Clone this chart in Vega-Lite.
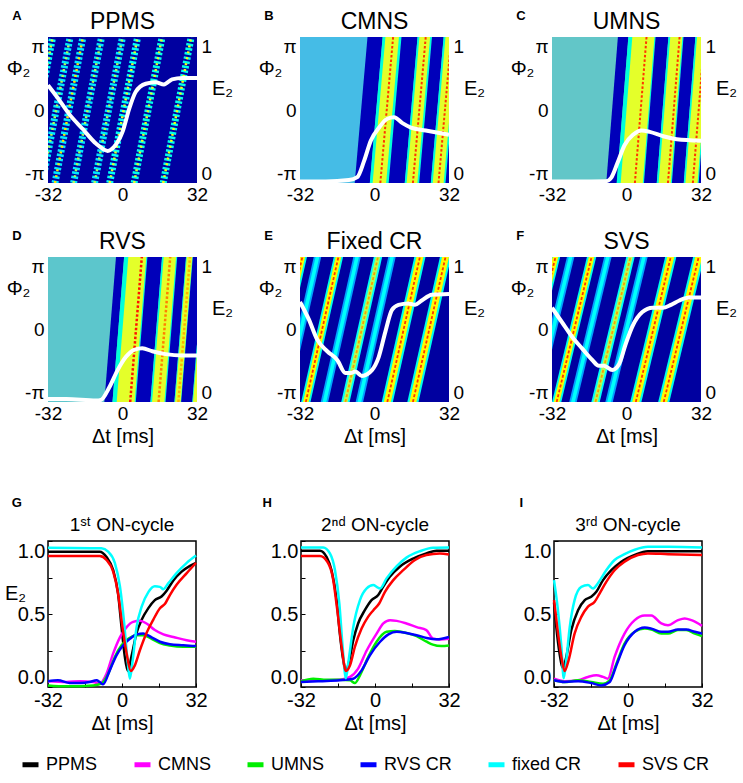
{
"$schema":"https://vega.github.io/schema/vega-lite/v6.json",
"padding":{"left":3,"top":10,"right":0,"bottom":0},
"background":"white",
"config":{"font":"Liberation Sans","view":{"stroke":null},"axis":{"grid":false,"domain":false,"ticks":false,"labelFontSize":19,"titleFontSize":20,"titleFontWeight":"normal","labelColor":"#000","titleColor":"#000"},"title":{"fontWeight":"normal","color":"#000"},"legend":{"labelColor":"#000"}},
"datasets":{
"heat":[
{"p":"A","g":1,"f":-3.1416,"m":-42,"v":0.38,"k":0.6},{"p":"A","g":1,"f":3.1416,"m":-30,"v":0.38,"k":0.6},
{"p":"A","g":2,"f":-3.1416,"m":-34.5,"v":0.35,"k":0.55},{"p":"A","g":2,"f":3.1416,"m":-22.5,"v":0.35,"k":0.55},
{"p":"A","g":3,"f":-3.1416,"m":-29,"v":0.35,"k":0.65},{"p":"A","g":3,"f":3.1416,"m":-17,"v":0.35,"k":0.65},
{"p":"A","g":4,"f":-3.1416,"m":-21,"v":0.35,"k":0.55},{"p":"A","g":4,"f":3.1416,"m":-9,"v":0.35,"k":0.55},
{"p":"A","g":5,"f":-3.1416,"m":-12,"v":0.35,"k":0.55},{"p":"A","g":5,"f":3.1416,"m":0,"v":0.35,"k":0.55},
{"p":"A","g":6,"f":-3.1416,"m":-5.5,"v":0.38,"k":0.6},{"p":"A","g":6,"f":3.1416,"m":6.5,"v":0.38,"k":0.6},
{"p":"A","g":7,"f":-3.1416,"m":5,"v":0.4,"k":0.6},{"p":"A","g":7,"f":3.1416,"m":17,"v":0.4,"k":0.6},
{"p":"A","g":8,"f":-3.1416,"m":17.5,"v":0.4,"k":0.62},{"p":"A","g":8,"f":3.1416,"m":29.5,"v":0.4,"k":0.62},

{"p":"B","g":1,"f":-3.1416,"a":-8.5,"b":-2,"v":0.05},{"p":"B","g":1,"f":3.1416,"a":-3,"b":3.5,"v":0.05},
{"p":"B","g":2,"f":-3.1416,"a":-2,"b":6.1,"v":0.42,"c":-0.8,"d":5,"w":0.6,"m":2.5,"k":0.85},{"p":"B","g":2,"f":3.1416,"a":3.5,"b":11.6,"v":0.42,"c":4.7,"d":10.5,"w":0.6,"m":8,"k":0.85},
{"p":"B","g":3,"f":-3.1416,"a":6.1,"b":13,"v":0.05},{"p":"B","g":3,"f":3.1416,"a":11.6,"b":18.5,"v":0.05},
{"p":"B","g":4,"f":-3.1416,"a":13,"b":19.2,"v":0.42,"c":13.8,"d":18.4,"w":0.6,"m":16.5,"k":0.85},{"p":"B","g":4,"f":3.1416,"a":18.5,"b":24.7,"v":0.42,"c":19.3,"d":23.9,"w":0.6,"m":22,"k":0.85},
{"p":"B","g":5,"f":-3.1416,"a":19.2,"b":24.2,"v":0.05},{"p":"B","g":5,"f":3.1416,"a":24.7,"b":29.7,"v":0.05},
{"p":"B","g":6,"f":-3.1416,"a":24.2,"b":30.5,"v":0.42,"c":25,"d":29.7,"w":0.6,"m":27.5,"k":0.85},{"p":"B","g":6,"f":3.1416,"a":29.7,"b":36,"v":0.42,"c":30.5,"d":35.2,"w":0.6,"m":33,"k":0.85},
{"p":"B","g":7,"f":-3.1416,"a":30.5,"b":35.5,"v":0.05},{"p":"B","g":7,"f":3.1416,"a":36,"b":41,"v":0.05},

{"p":"C","g":1,"f":-3.1416,"a":-8.7,"b":-4.2,"v":0.05},{"p":"C","g":1,"f":3.1416,"a":-3.7,"b":0.8,"v":0.05},
{"p":"C","g":2,"f":-3.1416,"a":-4.2,"b":7.5,"v":0.42,"c":-2.5,"d":7,"w":0.6,"m":3.6,"k":0.85},{"p":"C","g":2,"f":3.1416,"a":0.8,"b":12.5,"v":0.42,"c":2.5,"d":12,"w":0.6,"m":8.6,"k":0.85},
{"p":"C","g":3,"f":-3.1416,"a":7.5,"b":13,"v":0.05},{"p":"C","g":3,"f":3.1416,"a":12.5,"b":18,"v":0.05},
{"p":"C","g":4,"f":-3.1416,"a":13,"b":19.5,"v":0.42,"c":13.8,"d":19,"w":0.6,"m":17.8,"k":0.85},{"p":"C","g":4,"f":3.1416,"a":18,"b":24.5,"v":0.42,"c":18.8,"d":24,"w":0.6,"m":22.8,"k":0.85},
{"p":"C","g":5,"f":-3.1416,"a":19.5,"b":24.6,"v":0.05},{"p":"C","g":5,"f":3.1416,"a":24.5,"b":29.6,"v":0.05},
{"p":"C","g":6,"f":-3.1416,"a":24.6,"b":31,"v":0.42,"c":25.3,"d":30.5,"w":0.6,"m":28.5,"k":0.85},{"p":"C","g":6,"f":3.1416,"a":29.6,"b":36,"v":0.42,"c":30.3,"d":35.5,"w":0.6,"m":33.5,"k":0.85},
{"p":"C","g":7,"f":-3.1416,"a":31,"b":36,"v":0.05},{"p":"C","g":7,"f":3.1416,"a":36,"b":41,"v":0.05},

{"p":"D","g":1,"f":-3.1416,"a":-7.8,"b":-4.3,"v":0.05},{"p":"D","g":1,"f":3.1416,"a":-2.8,"b":0.7,"v":0.05},
{"p":"D","g":2,"f":-3.1416,"a":-4.3,"b":5.7,"v":0.42,"c":-2.5,"d":5.2,"w":0.6,"m":3.3,"k":0.87},{"p":"D","g":2,"f":3.1416,"a":0.7,"b":10.7,"v":0.42,"c":2.5,"d":10.2,"w":0.6,"m":8.3,"k":0.87},
{"p":"D","g":3,"f":-3.1416,"a":5.7,"b":12,"v":0.05},{"p":"D","g":3,"f":3.1416,"a":10.7,"b":17,"v":0.05},
{"p":"D","g":4,"f":-3.1416,"a":12,"b":18.5,"v":0.42,"c":12.7,"d":18,"w":0.6,"m":15.5,"k":0.75},{"p":"D","g":4,"f":3.1416,"a":17,"b":23.5,"v":0.42,"c":17.7,"d":23,"w":0.6,"m":20.5,"k":0.75},
{"p":"D","g":5,"f":-3.1416,"a":18.5,"b":22.3,"v":0.05},{"p":"D","g":5,"f":3.1416,"a":23.5,"b":27.3,"v":0.05},
{"p":"D","g":6,"f":-3.1416,"a":22.3,"b":25.2,"v":0.42,"c":22.6,"d":25,"w":0.6,"m":24,"k":0.7},{"p":"D","g":6,"f":3.1416,"a":27.3,"b":30.2,"v":0.42,"c":27.6,"d":30,"w":0.6,"m":29,"k":0.7},
{"p":"D","g":7,"f":-3.1416,"a":25.2,"b":30,"v":0.05},{"p":"D","g":7,"f":3.1416,"a":30.2,"b":35,"v":0.05},
{"p":"D","g":8,"f":-3.1416,"a":30,"b":35,"v":0.42,"c":30.3,"d":34.7,"w":0.6},{"p":"D","g":8,"f":3.1416,"a":35,"b":40,"v":0.42,"c":35.3,"d":39.7,"w":0.6},

{"p":"E","g":1,"f":-3.1416,"a":-47,"b":-43,"v":0.4,"c":-46.2,"d":-43.8,"w":0.63,"m":-45,"k":0.85},{"p":"E","g":1,"f":3.1416,"a":-33,"b":-29,"v":0.4,"c":-32.2,"d":-29.8,"w":0.63,"m":-31,"k":0.85},
{"p":"E","g":2,"f":-3.1416,"a":-40.1,"b":-36.9,"v":0.28,"c":-39.3,"d":-37.7,"w":0.38},{"p":"E","g":2,"f":3.1416,"a":-26.1,"b":-22.9,"v":0.28,"c":-25.3,"d":-23.7,"w":0.38},
{"p":"E","g":3,"f":-3.1416,"a":-31.5,"b":-27.5,"v":0.4,"c":-30.7,"d":-28.3,"w":0.63,"m":-29.5,"k":0.85},{"p":"E","g":3,"f":3.1416,"a":-17.5,"b":-13.5,"v":0.4,"c":-16.7,"d":-14.3,"w":0.63,"m":-15.5,"k":0.85},
{"p":"E","g":4,"f":-3.1416,"a":-23.1,"b":-19.9,"v":0.28,"c":-22.3,"d":-20.7,"w":0.38},{"p":"E","g":4,"f":3.1416,"a":-9.1,"b":-5.9,"v":0.28,"c":-8.3,"d":-6.7,"w":0.38},
{"p":"E","g":5,"f":-3.1416,"a":-14.3,"b":-10.7,"v":0.38,"c":-13.5,"d":-11.5,"w":0.55,"m":-12.5,"k":0.72},{"p":"E","g":5,"f":3.1416,"a":-0.3,"b":3.3,"v":0.38,"c":0.5,"d":2.5,"w":0.55,"m":1.5,"k":0.72},
{"p":"E","g":6,"f":-3.1416,"a":-8.1,"b":-4.9,"v":0.28,"c":-7.3,"d":-5.7,"w":0.38},{"p":"E","g":6,"f":3.1416,"a":5.9,"b":9.1,"v":0.28,"c":6.7,"d":8.3,"w":0.38},
{"p":"E","g":7,"f":-3.1416,"a":3.1,"b":7.9,"v":0.4,"c":4,"d":7,"w":0.63,"m":5.5,"k":0.85},{"p":"E","g":7,"f":3.1416,"a":17.1,"b":21.9,"v":0.4,"c":18,"d":21,"w":0.63,"m":19.5,"k":0.85},
{"p":"E","g":8,"f":-3.1416,"a":14.1,"b":18.9,"v":0.4,"c":15,"d":18,"w":0.63,"m":16.5,"k":0.85},{"p":"E","g":8,"f":3.1416,"a":28.1,"b":32.9,"v":0.4,"c":29,"d":32,"w":0.63,"m":30.5,"k":0.85},

{"p":"F","g":1,"f":-3.1416,"a":-47.5,"b":-43.5,"v":0.4,"c":-46.7,"d":-44.3,"w":0.63,"m":-45.5,"k":0.85},{"p":"F","g":1,"f":3.1416,"a":-32.5,"b":-28.5,"v":0.4,"c":-31.7,"d":-29.3,"w":0.63,"m":-30.5,"k":0.85},
{"p":"F","g":2,"f":-3.1416,"a":-40.6,"b":-37.4,"v":0.28,"c":-39.8,"d":-38.2,"w":0.38},{"p":"F","g":2,"f":3.1416,"a":-25.6,"b":-22.4,"v":0.28,"c":-24.8,"d":-23.2,"w":0.38},
{"p":"F","g":3,"f":-3.1416,"a":-32,"b":-28,"v":0.4,"c":-31.2,"d":-28.8,"w":0.63,"m":-30,"k":0.85},{"p":"F","g":3,"f":3.1416,"a":-17,"b":-13,"v":0.4,"c":-16.2,"d":-13.8,"w":0.63,"m":-15,"k":0.85},
{"p":"F","g":4,"f":-3.1416,"a":-24.6,"b":-21.4,"v":0.28,"c":-23.8,"d":-22.2,"w":0.38},{"p":"F","g":4,"f":3.1416,"a":-9.6,"b":-6.4,"v":0.28,"c":-8.8,"d":-7.2,"w":0.38},
{"p":"F","g":5,"f":-3.1416,"a":-15.1,"b":-11.5,"v":0.38,"c":-14.3,"d":-12.3,"w":0.55,"m":-13.3,"k":0.72},{"p":"F","g":5,"f":3.1416,"a":-0.1,"b":3.5,"v":0.38,"c":0.7,"d":2.7,"w":0.55,"m":1.7,"k":0.72},
{"p":"F","g":6,"f":-3.1416,"a":-9.1,"b":-5.9,"v":0.28,"c":-8.3,"d":-6.7,"w":0.38},{"p":"F","g":6,"f":3.1416,"a":5.9,"b":9.1,"v":0.28,"c":6.7,"d":8.3,"w":0.38},
{"p":"F","g":7,"f":-3.1416,"a":1.6,"b":6.4,"v":0.4,"c":2.5,"d":5.5,"w":0.63,"m":4,"k":0.85},{"p":"F","g":7,"f":3.1416,"a":16.6,"b":21.4,"v":0.4,"c":17.5,"d":20.5,"w":0.63,"m":19,"k":0.85},
{"p":"F","g":8,"f":-3.1416,"a":13.6,"b":18.4,"v":0.4,"c":14.5,"d":17.5,"w":0.63,"m":16,"k":0.85},{"p":"F","g":8,"f":3.1416,"a":28.6,"b":33.4,"v":0.4,"c":29.5,"d":32.5,"w":0.63,"m":31,"k":0.85}
],
"white":[
{"p":"A","t":-32,"e":0.67},{"p":"A","t":-27.7,"e":0.58},{"p":"A","t":-22.8,"e":0.47},{"p":"A","t":-17.1,"e":0.37},{"p":"A","t":-11.4,"e":0.27},{"p":"A","t":-6.4,"e":0.22},{"p":"A","t":-3.5,"e":0.25},{"p":"A","t":0,"e":0.35},{"p":"A","t":2.9,"e":0.51},{"p":"A","t":5.7,"e":0.625},{"p":"A","t":10,"e":0.68},{"p":"A","t":14.2,"e":0.69},{"p":"A","t":17.8,"e":0.675},{"p":"A","t":21.3,"e":0.71},{"p":"A","t":25.6,"e":0.72},{"p":"A","t":32,"e":0.72},
{"p":"B","t":-32,"e":0.01},{"p":"B","t":-21,"e":0.01},{"p":"B","t":-11,"e":0.02},{"p":"B","t":-7.4,"e":0.04},{"p":"B","t":-4.5,"e":0.15},{"p":"B","t":-1.6,"e":0.29},{"p":"B","t":2,"e":0.38},{"p":"B","t":5.5,"e":0.44},{"p":"B","t":8.4,"e":0.45},{"p":"B","t":12,"e":0.41},{"p":"B","t":15.6,"e":0.38},{"p":"B","t":22,"e":0.36},{"p":"B","t":32,"e":0.33},
{"p":"C","t":-32,"e":0.01},{"p":"C","t":-22,"e":0.01},{"p":"C","t":-8.8,"e":0.012},{"p":"C","t":-6.6,"e":0.035},{"p":"C","t":-3.8,"e":0.14},{"p":"C","t":-0.8,"e":0.26},{"p":"C","t":2.8,"e":0.33},{"p":"C","t":6.4,"e":0.36},{"p":"C","t":10,"e":0.35},{"p":"C","t":15.8,"e":0.32},{"p":"C","t":21.6,"e":0.3},{"p":"C","t":32,"e":0.29},
{"p":"D","t":-32,"e":0.02},{"p":"D","t":-24.2,"e":0.02},{"p":"D","t":-11.4,"e":0.01},{"p":"D","t":-9.2,"e":0.015},{"p":"D","t":-5.7,"e":0.1},{"p":"D","t":-2.1,"e":0.22},{"p":"D","t":1.4,"e":0.31},{"p":"D","t":5,"e":0.36},{"p":"D","t":8.5,"e":0.37},{"p":"D","t":12.8,"e":0.35},{"p":"D","t":18.5,"e":0.33},{"p":"D","t":25.6,"e":0.32},{"p":"D","t":32,"e":0.32},
{"p":"E","t":-32,"e":0.69},{"p":"E","t":-28.2,"e":0.57},{"p":"E","t":-24.6,"e":0.43},{"p":"E","t":-20.3,"e":0.35},{"p":"E","t":-16,"e":0.29},{"p":"E","t":-12.5,"e":0.2},{"p":"E","t":-10.3,"e":0.2},{"p":"E","t":-8.2,"e":0.21},{"p":"E","t":-5.4,"e":0.18},{"p":"E","t":-1.1,"e":0.22},{"p":"E","t":1.8,"e":0.31},{"p":"E","t":4.6,"e":0.48},{"p":"E","t":7.5,"e":0.635},{"p":"E","t":10.3,"e":0.67},{"p":"E","t":14.6,"e":0.68},{"p":"E","t":17.4,"e":0.67},{"p":"E","t":20.3,"e":0.7},{"p":"E","t":24.6,"e":0.74},{"p":"E","t":32,"e":0.745},
{"p":"F","t":-32,"e":0.65},{"p":"F","t":-27.7,"e":0.55},{"p":"F","t":-23.4,"e":0.45},{"p":"F","t":-19.1,"e":0.37},{"p":"F","t":-14.7,"e":0.29},{"p":"F","t":-11.9,"e":0.25},{"p":"F","t":-9.7,"e":0.25},{"p":"F","t":-6.1,"e":0.22},{"p":"F","t":-3.2,"e":0.26},{"p":"F","t":-0.35,"e":0.4},{"p":"F","t":2.5,"e":0.52},{"p":"F","t":6.8,"e":0.62},{"p":"F","t":11.2,"e":0.65},{"p":"F","t":15.5,"e":0.65},{"p":"F","t":19.1,"e":0.67},{"p":"F","t":22.7,"e":0.7},{"p":"F","t":27,"e":0.72},{"p":"F","t":32,"e":0.72}
],
"ec":[
{"c":"G","s":"PPMS","t":-32,"e":0.927},{"c":"G","s":"PPMS","t":-9.6,"e":0.927},{"c":"G","s":"PPMS","t":-6.7,"e":0.89},{"c":"G","s":"PPMS","t":-3.8,"e":0.8},{"c":"G","s":"PPMS","t":-1.7,"e":0.64},{"c":"G","s":"PPMS","t":-0.2,"e":0.41},{"c":"G","s":"PPMS","t":1.2,"e":0.21},{"c":"G","s":"PPMS","t":2.5,"e":0.11},{"c":"G","s":"PPMS","t":4.1,"e":0.21},{"c":"G","s":"PPMS","t":6.3,"e":0.37},{"c":"G","s":"PPMS","t":8.5,"e":0.46},{"c":"G","s":"PPMS","t":11.4,"e":0.54},{"c":"G","s":"PPMS","t":14.2,"e":0.595},{"c":"G","s":"PPMS","t":17.1,"e":0.62},{"c":"G","s":"PPMS","t":19.3,"e":0.66},{"c":"G","s":"PPMS","t":22.2,"e":0.73},{"c":"G","s":"PPMS","t":25.8,"e":0.79},{"c":"G","s":"PPMS","t":29.4,"e":0.83},{"c":"G","s":"PPMS","t":32,"e":0.85},
{"c":"G","s":"CMNS","t":-32,"e":0.04},{"c":"G","s":"CMNS","t":-24,"e":0.035},{"c":"G","s":"CMNS","t":-18.3,"e":0.04},{"c":"G","s":"CMNS","t":-12.5,"e":0.035},{"c":"G","s":"CMNS","t":-9.6,"e":0.023},{"c":"G","s":"CMNS","t":-6.7,"e":0.09},{"c":"G","s":"CMNS","t":-3.8,"e":0.23},{"c":"G","s":"CMNS","t":-0.9,"e":0.34},{"c":"G","s":"CMNS","t":2,"e":0.41},{"c":"G","s":"CMNS","t":4.8,"e":0.446},{"c":"G","s":"CMNS","t":7.7,"e":0.453},{"c":"G","s":"CMNS","t":10.6,"e":0.435},{"c":"G","s":"CMNS","t":14.2,"e":0.39},{"c":"G","s":"CMNS","t":17.9,"e":0.36},{"c":"G","s":"CMNS","t":22.2,"e":0.343},{"c":"G","s":"CMNS","t":28,"e":0.32},{"c":"G","s":"CMNS","t":32,"e":0.31},
{"c":"G","s":"UMNS","t":-32,"e":0.011},{"c":"G","s":"UMNS","t":-24,"e":0.005},{"c":"G","s":"UMNS","t":-12.5,"e":0.011},{"c":"G","s":"UMNS","t":-8.9,"e":0.023},{"c":"G","s":"UMNS","t":-6,"e":0.09},{"c":"G","s":"UMNS","t":-3.1,"e":0.206},{"c":"G","s":"UMNS","t":-0.2,"e":0.286},{"c":"G","s":"UMNS","t":2.7,"e":0.33},{"c":"G","s":"UMNS","t":6.3,"e":0.355},{"c":"G","s":"UMNS","t":9.2,"e":0.355},{"c":"G","s":"UMNS","t":12.8,"e":0.33},{"c":"G","s":"UMNS","t":16.4,"e":0.3},{"c":"G","s":"UMNS","t":20.7,"e":0.284},{"c":"G","s":"UMNS","t":26.5,"e":0.275},{"c":"G","s":"UMNS","t":32,"e":0.275},
{"c":"G","s":"RVS CR","t":-32,"e":0.04},{"c":"G","s":"RVS CR","t":-27.7,"e":0.046},{"c":"G","s":"RVS CR","t":-22.6,"e":0.027},{"c":"G","s":"RVS CR","t":-18.3,"e":0.027},{"c":"G","s":"RVS CR","t":-14,"e":0.034},{"c":"G","s":"RVS CR","t":-11,"e":0.046},{"c":"G","s":"RVS CR","t":-9.6,"e":0.034},{"c":"G","s":"RVS CR","t":-8.2,"e":0.018},{"c":"G","s":"RVS CR","t":-5.3,"e":0.114},{"c":"G","s":"RVS CR","t":-2.4,"e":0.217},{"c":"G","s":"RVS CR","t":0.5,"e":0.286},{"c":"G","s":"RVS CR","t":3.4,"e":0.33},{"c":"G","s":"RVS CR","t":6.3,"e":0.36},{"c":"G","s":"RVS CR","t":9.2,"e":0.366},{"c":"G","s":"RVS CR","t":12.8,"e":0.34},{"c":"G","s":"RVS CR","t":16.4,"e":0.31},{"c":"G","s":"RVS CR","t":20.7,"e":0.293},{"c":"G","s":"RVS CR","t":26.5,"e":0.286},{"c":"G","s":"RVS CR","t":32,"e":0.28},
{"c":"G","s":"fixed CR","t":-32,"e":0.954},{"c":"G","s":"fixed CR","t":-8.9,"e":0.95},{"c":"G","s":"fixed CR","t":-6,"e":0.927},{"c":"G","s":"fixed CR","t":-3.1,"e":0.85},{"c":"G","s":"fixed CR","t":-0.9,"e":0.69},{"c":"G","s":"fixed CR","t":0.8,"e":0.46},{"c":"G","s":"fixed CR","t":2.4,"e":0.18},{"c":"G","s":"fixed CR","t":3.4,"e":0.057},{"c":"G","s":"fixed CR","t":4.6,"e":0.18},{"c":"G","s":"fixed CR","t":6.3,"e":0.41},{"c":"G","s":"fixed CR","t":8.5,"e":0.55},{"c":"G","s":"fixed CR","t":11.4,"e":0.65},{"c":"G","s":"fixed CR","t":14.2,"e":0.69},{"c":"G","s":"fixed CR","t":16.4,"e":0.686},{"c":"G","s":"fixed CR","t":17.9,"e":0.67},{"c":"G","s":"fixed CR","t":20,"e":0.71},{"c":"G","s":"fixed CR","t":23.6,"e":0.78},{"c":"G","s":"fixed CR","t":28,"e":0.85},{"c":"G","s":"fixed CR","t":32,"e":0.9},
{"c":"G","s":"SVS CR","t":-32,"e":0.897},{"c":"G","s":"SVS CR","t":-9.6,"e":0.897},{"c":"G","s":"SVS CR","t":-6.7,"e":0.87},{"c":"G","s":"SVS CR","t":-3.8,"e":0.79},{"c":"G","s":"SVS CR","t":-1.7,"e":0.64},{"c":"G","s":"SVS CR","t":0.2,"e":0.41},{"c":"G","s":"SVS CR","t":2,"e":0.23},{"c":"G","s":"SVS CR","t":3.8,"e":0.11},{"c":"G","s":"SVS CR","t":5.6,"e":0.15},{"c":"G","s":"SVS CR","t":7.7,"e":0.25},{"c":"G","s":"SVS CR","t":10.6,"e":0.37},{"c":"G","s":"SVS CR","t":13.5,"e":0.46},{"c":"G","s":"SVS CR","t":16.4,"e":0.54},{"c":"G","s":"SVS CR","t":18.6,"e":0.57},{"c":"G","s":"SVS CR","t":20.7,"e":0.63},{"c":"G","s":"SVS CR","t":23.6,"e":0.7},{"c":"G","s":"SVS CR","t":28,"e":0.78},{"c":"G","s":"SVS CR","t":32,"e":0.85},

{"c":"H","s":"PPMS","t":-32,"e":0.934},{"c":"H","s":"PPMS","t":-23.8,"e":0.934},{"c":"H","s":"PPMS","t":-20.9,"e":0.89},{"c":"H","s":"PPMS","t":-18.8,"e":0.8},{"c":"H","s":"PPMS","t":-16.6,"e":0.595},{"c":"H","s":"PPMS","t":-15.2,"e":0.366},{"c":"H","s":"PPMS","t":-13.7,"e":0.183},{"c":"H","s":"PPMS","t":-12.6,"e":0.11},{"c":"H","s":"PPMS","t":-11.1,"e":0.183},{"c":"H","s":"PPMS","t":-9.4,"e":0.32},{"c":"H","s":"PPMS","t":-7.3,"e":0.435},{"c":"H","s":"PPMS","t":-4.4,"e":0.526},{"c":"H","s":"PPMS","t":-1.5,"e":0.595},{"c":"H","s":"PPMS","t":1.4,"e":0.63},{"c":"H","s":"PPMS","t":3.5,"e":0.686},{"c":"H","s":"PPMS","t":6.4,"e":0.755},{"c":"H","s":"PPMS","t":10.7,"e":0.824},{"c":"H","s":"PPMS","t":16.5,"e":0.88},{"c":"H","s":"PPMS","t":22.2,"e":0.915},{"c":"H","s":"PPMS","t":26.6,"e":0.934},{"c":"H","s":"PPMS","t":32,"e":0.934},
{"c":"H","s":"CMNS","t":-32,"e":0.046},{"c":"H","s":"CMNS","t":-24,"e":0.046},{"c":"H","s":"CMNS","t":-15.2,"e":0.05},{"c":"H","s":"CMNS","t":-10.8,"e":0.069},{"c":"H","s":"CMNS","t":-7.3,"e":0.126},{"c":"H","s":"CMNS","t":-3.6,"e":0.25},{"c":"H","s":"CMNS","t":0.7,"e":0.366},{"c":"H","s":"CMNS","t":3.6,"e":0.435},{"c":"H","s":"CMNS","t":6.5,"e":0.458},{"c":"H","s":"CMNS","t":9.4,"e":0.453},{"c":"H","s":"CMNS","t":13.6,"e":0.435},{"c":"H","s":"CMNS","t":18,"e":0.41},{"c":"H","s":"CMNS","t":22.2,"e":0.39},{"c":"H","s":"CMNS","t":25.2,"e":0.33},{"c":"H","s":"CMNS","t":28,"e":0.325},{"c":"H","s":"CMNS","t":32,"e":0.33},
{"c":"H","s":"UMNS","t":-32,"e":0.04},{"c":"H","s":"UMNS","t":-26.7,"e":0.057},{"c":"H","s":"UMNS","t":-21,"e":0.05},{"c":"H","s":"UMNS","t":-15.2,"e":0.05},{"c":"H","s":"UMNS","t":-10.8,"e":0.046},{"c":"H","s":"UMNS","t":-8.7,"e":0.027},{"c":"H","s":"UMNS","t":-6.5,"e":0.08},{"c":"H","s":"UMNS","t":-2.9,"e":0.206},{"c":"H","s":"UMNS","t":0.7,"e":0.31},{"c":"H","s":"UMNS","t":5,"e":0.378},{"c":"H","s":"UMNS","t":8.6,"e":0.384},{"c":"H","s":"UMNS","t":13.6,"e":0.37},{"c":"H","s":"UMNS","t":18,"e":0.348},{"c":"H","s":"UMNS","t":22.3,"e":0.31},{"c":"H","s":"UMNS","t":25,"e":0.29},{"c":"H","s":"UMNS","t":28.7,"e":0.28},{"c":"H","s":"UMNS","t":32,"e":0.285},
{"c":"H","s":"RVS CR","t":-32,"e":0.034},{"c":"H","s":"RVS CR","t":-24,"e":0.04},{"c":"H","s":"RVS CR","t":-15.2,"e":0.046},{"c":"H","s":"RVS CR","t":-9.4,"e":0.057},{"c":"H","s":"RVS CR","t":-5.8,"e":0.114},{"c":"H","s":"RVS CR","t":-2.2,"e":0.217},{"c":"H","s":"RVS CR","t":2.2,"e":0.31},{"c":"H","s":"RVS CR","t":5.8,"e":0.36},{"c":"H","s":"RVS CR","t":9.4,"e":0.378},{"c":"H","s":"RVS CR","t":13.6,"e":0.37},{"c":"H","s":"RVS CR","t":18,"e":0.355},{"c":"H","s":"RVS CR","t":22.3,"e":0.336},{"c":"H","s":"RVS CR","t":26.6,"e":0.327},{"c":"H","s":"RVS CR","t":32,"e":0.343},
{"c":"H","s":"fixed CR","t":-32,"e":0.956},{"c":"H","s":"fixed CR","t":-22.4,"e":0.956},{"c":"H","s":"fixed CR","t":-19.5,"e":0.915},{"c":"H","s":"fixed CR","t":-17.3,"e":0.8},{"c":"H","s":"fixed CR","t":-15.4,"e":0.57},{"c":"H","s":"fixed CR","t":-14,"e":0.275},{"c":"H","s":"fixed CR","t":-12.6,"e":0.06},{"c":"H","s":"fixed CR","t":-11.4,"e":0.183},{"c":"H","s":"fixed CR","t":-9.4,"e":0.41},{"c":"H","s":"fixed CR","t":-6.5,"e":0.595},{"c":"H","s":"fixed CR","t":-3.6,"e":0.675},{"c":"H","s":"fixed CR","t":-0.7,"e":0.698},{"c":"H","s":"fixed CR","t":0.7,"e":0.686},{"c":"H","s":"fixed CR","t":2.2,"e":0.675},{"c":"H","s":"fixed CR","t":5,"e":0.744},{"c":"H","s":"fixed CR","t":9.4,"e":0.828},{"c":"H","s":"fixed CR","t":13.6,"e":0.886},{"c":"H","s":"fixed CR","t":19.4,"e":0.93},{"c":"H","s":"fixed CR","t":25.1,"e":0.954},{"c":"H","s":"fixed CR","t":32,"e":0.956},
{"c":"H","s":"SVS CR","t":-32,"e":0.897},{"c":"H","s":"SVS CR","t":-23.8,"e":0.897},{"c":"H","s":"SVS CR","t":-20.6,"e":0.858},{"c":"H","s":"SVS CR","t":-18.3,"e":0.755},{"c":"H","s":"SVS CR","t":-16.3,"e":0.526},{"c":"H","s":"SVS CR","t":-14.4,"e":0.275},{"c":"H","s":"SVS CR","t":-12.6,"e":0.11},{"c":"H","s":"SVS CR","t":-10.8,"e":0.149},{"c":"H","s":"SVS CR","t":-8.7,"e":0.275},{"c":"H","s":"SVS CR","t":-5.8,"e":0.4},{"c":"H","s":"SVS CR","t":-3,"e":0.48},{"c":"H","s":"SVS CR","t":-0.7,"e":0.526},{"c":"H","s":"SVS CR","t":1.8,"e":0.572},{"c":"H","s":"SVS CR","t":4.3,"e":0.652},{"c":"H","s":"SVS CR","t":7.9,"e":0.732},{"c":"H","s":"SVS CR","t":12.2,"e":0.8},{"c":"H","s":"SVS CR","t":17.3,"e":0.87},{"c":"H","s":"SVS CR","t":22.2,"e":0.904},{"c":"H","s":"SVS CR","t":28,"e":0.915},{"c":"H","s":"SVS CR","t":32,"e":0.908},

{"c":"I","s":"PPMS","t":-32,"e":0.58},{"c":"I","s":"PPMS","t":-31,"e":0.41},{"c":"I","s":"PPMS","t":-29.6,"e":0.23},{"c":"I","s":"PPMS","t":-28.1,"e":0.13},{"c":"I","s":"PPMS","t":-26.7,"e":0.206},{"c":"I","s":"PPMS","t":-24.5,"e":0.39},{"c":"I","s":"PPMS","t":-21.6,"e":0.526},{"c":"I","s":"PPMS","t":-18.7,"e":0.595},{"c":"I","s":"PPMS","t":-15.9,"e":0.618},{"c":"I","s":"PPMS","t":-13.7,"e":0.652},{"c":"I","s":"PPMS","t":-10.8,"e":0.732},{"c":"I","s":"PPMS","t":-7.2,"e":0.8},{"c":"I","s":"PPMS","t":-2.9,"e":0.858},{"c":"I","s":"PPMS","t":2.9,"e":0.904},{"c":"I","s":"PPMS","t":8.6,"e":0.93},{"c":"I","s":"PPMS","t":17.3,"e":0.93},{"c":"I","s":"PPMS","t":32,"e":0.93},
{"c":"I","s":"CMNS","t":-32,"e":0.057},{"c":"I","s":"CMNS","t":-27.4,"e":0.04},{"c":"I","s":"CMNS","t":-21.6,"e":0.046},{"c":"I","s":"CMNS","t":-17.3,"e":0.069},{"c":"I","s":"CMNS","t":-13.7,"e":0.08},{"c":"I","s":"CMNS","t":-10.8,"e":0.069},{"c":"I","s":"CMNS","t":-8.7,"e":0.057},{"c":"I","s":"CMNS","t":-5.8,"e":0.206},{"c":"I","s":"CMNS","t":-1.5,"e":0.366},{"c":"I","s":"CMNS","t":2.9,"e":0.458},{"c":"I","s":"CMNS","t":7.2,"e":0.49},{"c":"I","s":"CMNS","t":10.1,"e":0.49},{"c":"I","s":"CMNS","t":14.4,"e":0.435},{"c":"I","s":"CMNS","t":17.3,"e":0.423},{"c":"I","s":"CMNS","t":21.6,"e":0.458},{"c":"I","s":"CMNS","t":24.5,"e":0.47},{"c":"I","s":"CMNS","t":27.4,"e":0.458},{"c":"I","s":"CMNS","t":32,"e":0.419},
{"c":"I","s":"UMNS","t":-32,"e":0.046},{"c":"I","s":"UMNS","t":-27.4,"e":0.034},{"c":"I","s":"UMNS","t":-21.6,"e":0.046},{"c":"I","s":"UMNS","t":-15.9,"e":0.034},{"c":"I","s":"UMNS","t":-10.8,"e":0.023},{"c":"I","s":"UMNS","t":-7.9,"e":0.046},{"c":"I","s":"UMNS","t":-5,"e":0.16},{"c":"I","s":"UMNS","t":-1.5,"e":0.297},{"c":"I","s":"UMNS","t":2.9,"e":0.378},{"c":"I","s":"UMNS","t":7.2,"e":0.4},{"c":"I","s":"UMNS","t":10.1,"e":0.394},{"c":"I","s":"UMNS","t":14.4,"e":0.366},{"c":"I","s":"UMNS","t":17.3,"e":0.366},{"c":"I","s":"UMNS","t":21.6,"e":0.39},{"c":"I","s":"UMNS","t":25.2,"e":0.39},{"c":"I","s":"UMNS","t":28.9,"e":0.366},{"c":"I","s":"UMNS","t":32,"e":0.348},
{"c":"I","s":"RVS CR","t":-32,"e":0.046},{"c":"I","s":"RVS CR","t":-27.4,"e":0.034},{"c":"I","s":"RVS CR","t":-21.6,"e":0.04},{"c":"I","s":"RVS CR","t":-15.9,"e":0.027},{"c":"I","s":"RVS CR","t":-11.5,"e":0.011},{"c":"I","s":"RVS CR","t":-7.9,"e":0.034},{"c":"I","s":"RVS CR","t":-5,"e":0.149},{"c":"I","s":"RVS CR","t":-1.5,"e":0.286},{"c":"I","s":"RVS CR","t":2.9,"e":0.378},{"c":"I","s":"RVS CR","t":7.2,"e":0.407},{"c":"I","s":"RVS CR","t":10.1,"e":0.4},{"c":"I","s":"RVS CR","t":14.4,"e":0.378},{"c":"I","s":"RVS CR","t":17.3,"e":0.378},{"c":"I","s":"RVS CR","t":21.6,"e":0.394},{"c":"I","s":"RVS CR","t":25.2,"e":0.394},{"c":"I","s":"RVS CR","t":28.9,"e":0.378},{"c":"I","s":"RVS CR","t":32,"e":0.366},
{"c":"I","s":"fixed CR","t":-32,"e":0.732},{"c":"I","s":"fixed CR","t":-30.3,"e":0.526},{"c":"I","s":"fixed CR","t":-28.8,"e":0.275},{"c":"I","s":"fixed CR","t":-27.8,"e":0.06},{"c":"I","s":"fixed CR","t":-26.7,"e":0.183},{"c":"I","s":"fixed CR","t":-25.2,"e":0.41},{"c":"I","s":"fixed CR","t":-23.1,"e":0.595},{"c":"I","s":"fixed CR","t":-20.2,"e":0.686},{"c":"I","s":"fixed CR","t":-17.3,"e":0.698},{"c":"I","s":"fixed CR","t":-15.1,"e":0.675},{"c":"I","s":"fixed CR","t":-13,"e":0.71},{"c":"I","s":"fixed CR","t":-9.4,"e":0.8},{"c":"I","s":"fixed CR","t":-5.8,"e":0.87},{"c":"I","s":"fixed CR","t":-1.5,"e":0.91},{"c":"I","s":"fixed CR","t":2.9,"e":0.94},{"c":"I","s":"fixed CR","t":8.6,"e":0.96},{"c":"I","s":"fixed CR","t":17.3,"e":0.96},{"c":"I","s":"fixed CR","t":32,"e":0.956},
{"c":"I","s":"SVS CR","t":-32,"e":0.595},{"c":"I","s":"SVS CR","t":-30.6,"e":0.41},{"c":"I","s":"SVS CR","t":-28.8,"e":0.206},{"c":"I","s":"SVS CR","t":-27.4,"e":0.11},{"c":"I","s":"SVS CR","t":-25.7,"e":0.183},{"c":"I","s":"SVS CR","t":-23.1,"e":0.366},{"c":"I","s":"SVS CR","t":-20.2,"e":0.48},{"c":"I","s":"SVS CR","t":-17.3,"e":0.55},{"c":"I","s":"SVS CR","t":-14.4,"e":0.584},{"c":"I","s":"SVS CR","t":-12.3,"e":0.64},{"c":"I","s":"SVS CR","t":-9.4,"e":0.72},{"c":"I","s":"SVS CR","t":-5.8,"e":0.8},{"c":"I","s":"SVS CR","t":-1.5,"e":0.858},{"c":"I","s":"SVS CR","t":4.3,"e":0.904},{"c":"I","s":"SVS CR","t":8.6,"e":0.915},{"c":"I","s":"SVS CR","t":17.3,"e":0.91},{"c":"I","s":"SVS CR","t":32,"e":0.904}
]
},
"vconcat":[
{"vconcat":[
{"hconcat":[
{"vconcat":[{"width":149,"height":146,"title":{"text":"PPMS","fontSize":23,"offset":3},"view":{"fill":"#0000a0","stroke":null},"resolve":{"scale":{"y":"independent"}},"layer":[
{"data":{"name":"heat"},"transform":[{"filter":"datum.p=='A'"}],"mark":{"type":"line","strokeWidth":7,"strokeDash":[2.5,2],"clip":true},"encoding":{"x":{"field":"m","type":"quantitative","scale":{"domain":[-32,32],"nice":false,"zero":false},"axis":{"values":[-32,0,32],"labelExpr":"datum.value<0?'-32':datum.value>0?'32':'0'","labelFlush":false,"labelPadding":2,"title":null}},"y":{"field":"f","type":"quantitative","scale":{"domain":[-3.1416,3.1416],"nice":false,"zero":false},"axis":{"values":[-3.1416,0,3.1416],"labelExpr":"datum.value>3?'π':datum.value<-3?'-π':'0'","labelFlush":true,"labelPadding":4,"title":"Φ₂","titleAngle":0,"titleX":-30,"titleY":31,"titleAlign":"center","titleBaseline":"middle"}},"detail":{"field":"g"},"stroke":{"field":"v","type":"quantitative","scale":{"domain":[0,0.125,0.25,0.375,0.5,0.625,0.75,0.875,1],"range":["#00008f","#0000ff","#0080ff","#00ffff","#80ff80","#ffff00","#ff8000","#ff0000","#800000"]},"legend":null}}},
{"data":{"name":"heat"},"transform":[{"filter":"datum.p=='A'"}],"mark":{"type":"line","strokeWidth":2.5,"strokeDash":[2,4],"clip":true},"encoding":{"x":{"field":"m","type":"quantitative","scale":{"domain":[-32,32],"nice":false,"zero":false},"axis":{"values":[-32,0,32],"labelExpr":"datum.value<0?'-32':datum.value>0?'32':'0'","labelFlush":false,"labelPadding":2,"title":null}},"y":{"field":"f","type":"quantitative","scale":{"domain":[-3.1416,3.1416],"nice":false,"zero":false},"axis":null},"detail":{"field":"g"},"stroke":{"field":"k","type":"quantitative","scale":{"domain":[0,0.125,0.25,0.375,0.5,0.625,0.75,0.875,1],"range":["#00008f","#0000ff","#0080ff","#00ffff","#80ff80","#ffff00","#ff8000","#ff0000","#800000"]},"legend":null}}},
{"data":{"name":"white"},"transform":[{"filter":"datum.p=='A'"}],"mark":{"type":"line","color":"white","strokeWidth":4,"interpolate":"monotone"},"encoding":{"x":{"field":"t","type":"quantitative","scale":{"domain":[-32,32],"nice":false,"zero":false},"axis":{"values":[-32,0,32],"labelExpr":"datum.value<0?'-32':datum.value>0?'32':'0'","labelFlush":false,"labelPadding":2,"title":null}},"y":{"field":"e","type":"quantitative","scale":{"domain":[0,1],"nice":false,"zero":false},"axis":{"orient":"right","values":[0,1],"labelExpr":"datum.value>0.5?'1':'0'","labelFlush":true,"labelPadding":4,"title":"E₂","titleAngle":0,"titleX":25,"titleY":51,"titleAlign":"center","titleBaseline":"middle"}}}}
]}],"bounds":"flush","title":{"text":"A","anchor":"start","frame":"bounds","fontSize":13,"fontWeight":"bold","offset":0,"dx":6,"dy":12}},

{"vconcat":[{"width":149,"height":146,"title":{"text":"CMNS","fontSize":23,"offset":3},"view":{"fill":"#45bce6","stroke":null},"resolve":{"scale":{"y":"independent"}},"layer":[
{"data":{"name":"heat"},"transform":[{"filter":"datum.p=='B'"}],"mark":{"type":"area","orient":"horizontal","clip":true},"encoding":{"x":{"field":"a","type":"quantitative","stack":null,"scale":{"domain":[-32,32],"nice":false,"zero":false},"axis":{"values":[-32,0,32],"labelExpr":"datum.value<0?'-32':datum.value>0?'32':'0'","labelFlush":false,"labelPadding":2,"title":null}},"x2":{"field":"b"},"y":{"field":"f","type":"quantitative","scale":{"domain":[-3.1416,3.1416],"nice":false,"zero":false},"axis":{"values":[-3.1416,0,3.1416],"labelExpr":"datum.value>3?'π':datum.value<-3?'-π':'0'","labelFlush":true,"labelPadding":4,"title":"Φ₂","titleAngle":0,"titleX":-30,"titleY":31,"titleAlign":"center","titleBaseline":"middle"}},"detail":{"field":"g"},"fill":{"field":"v","type":"quantitative","scale":{"domain":[0,0.125,0.25,0.375,0.5,0.625,0.75,0.875,1],"range":["#00008f","#0000ff","#0080ff","#00ffff","#80ff80","#ffff00","#ff8000","#ff0000","#800000"]},"legend":null}}},
{"data":{"name":"heat"},"transform":[{"filter":"datum.p=='B' && isValid(datum.w)"}],"mark":{"type":"area","orient":"horizontal","clip":true},"encoding":{"x":{"field":"c","type":"quantitative","stack":null,"scale":{"domain":[-32,32],"nice":false,"zero":false},"axis":{"values":[-32,0,32],"labelExpr":"datum.value<0?'-32':datum.value>0?'32':'0'","labelFlush":false,"labelPadding":2,"title":null}},"x2":{"field":"d"},"y":{"field":"f","type":"quantitative","scale":{"domain":[-3.1416,3.1416],"nice":false,"zero":false},"axis":null},"detail":{"field":"g"},"fill":{"field":"w","type":"quantitative","scale":{"domain":[0,0.125,0.25,0.375,0.5,0.625,0.75,0.875,1],"range":["#00008f","#0000ff","#0080ff","#00ffff","#80ff80","#ffff00","#ff8000","#ff0000","#800000"]},"legend":null}}},
{"data":{"name":"heat"},"transform":[{"filter":"datum.p=='B' && isValid(datum.k)"}],"mark":{"type":"line","strokeWidth":2,"strokeDash":[2.5,2],"clip":true},"encoding":{"x":{"field":"m","type":"quantitative","scale":{"domain":[-32,32],"nice":false,"zero":false},"axis":{"values":[-32,0,32],"labelExpr":"datum.value<0?'-32':datum.value>0?'32':'0'","labelFlush":false,"labelPadding":2,"title":null}},"y":{"field":"f","type":"quantitative","scale":{"domain":[-3.1416,3.1416],"nice":false,"zero":false},"axis":null},"detail":{"field":"g"},"stroke":{"field":"k","type":"quantitative","scale":{"domain":[0,0.125,0.25,0.375,0.5,0.625,0.75,0.875,1],"range":["#00008f","#0000ff","#0080ff","#00ffff","#80ff80","#ffff00","#ff8000","#ff0000","#800000"]},"legend":null}}},
{"data":{"name":"white"},"transform":[{"filter":"datum.p=='B'"}],"mark":{"type":"line","color":"white","strokeWidth":4,"interpolate":"monotone"},"encoding":{"x":{"field":"t","type":"quantitative","scale":{"domain":[-32,32],"nice":false,"zero":false},"axis":{"values":[-32,0,32],"labelExpr":"datum.value<0?'-32':datum.value>0?'32':'0'","labelFlush":false,"labelPadding":2,"title":null}},"y":{"field":"e","type":"quantitative","scale":{"domain":[0,1],"nice":false,"zero":false},"axis":{"orient":"right","values":[0,1],"labelExpr":"datum.value>0.5?'1':'0'","labelFlush":true,"labelPadding":4,"title":"E₂","titleAngle":0,"titleX":25,"titleY":51,"titleAlign":"center","titleBaseline":"middle"}}}}
]}],"bounds":"flush","title":{"text":"B","anchor":"start","frame":"bounds","fontSize":13,"fontWeight":"bold","offset":0,"dx":6,"dy":12}},

{"vconcat":[{"width":149,"height":146,"title":{"text":"UMNS","fontSize":23,"offset":3},"view":{"fill":"#62c6c8","stroke":null},"resolve":{"scale":{"y":"independent"}},"layer":[
{"data":{"name":"heat"},"transform":[{"filter":"datum.p=='C'"}],"mark":{"type":"area","orient":"horizontal","clip":true},"encoding":{"x":{"field":"a","type":"quantitative","stack":null,"scale":{"domain":[-32,32],"nice":false,"zero":false},"axis":{"values":[-32,0,32],"labelExpr":"datum.value<0?'-32':datum.value>0?'32':'0'","labelFlush":false,"labelPadding":2,"title":null}},"x2":{"field":"b"},"y":{"field":"f","type":"quantitative","scale":{"domain":[-3.1416,3.1416],"nice":false,"zero":false},"axis":{"values":[-3.1416,0,3.1416],"labelExpr":"datum.value>3?'π':datum.value<-3?'-π':'0'","labelFlush":true,"labelPadding":4,"title":"Φ₂","titleAngle":0,"titleX":-30,"titleY":31,"titleAlign":"center","titleBaseline":"middle"}},"detail":{"field":"g"},"fill":{"field":"v","type":"quantitative","scale":{"domain":[0,0.125,0.25,0.375,0.5,0.625,0.75,0.875,1],"range":["#00008f","#0000ff","#0080ff","#00ffff","#80ff80","#ffff00","#ff8000","#ff0000","#800000"]},"legend":null}}},
{"data":{"name":"heat"},"transform":[{"filter":"datum.p=='C' && isValid(datum.w)"}],"mark":{"type":"area","orient":"horizontal","clip":true},"encoding":{"x":{"field":"c","type":"quantitative","stack":null,"scale":{"domain":[-32,32],"nice":false,"zero":false},"axis":{"values":[-32,0,32],"labelExpr":"datum.value<0?'-32':datum.value>0?'32':'0'","labelFlush":false,"labelPadding":2,"title":null}},"x2":{"field":"d"},"y":{"field":"f","type":"quantitative","scale":{"domain":[-3.1416,3.1416],"nice":false,"zero":false},"axis":null},"detail":{"field":"g"},"fill":{"field":"w","type":"quantitative","scale":{"domain":[0,0.125,0.25,0.375,0.5,0.625,0.75,0.875,1],"range":["#00008f","#0000ff","#0080ff","#00ffff","#80ff80","#ffff00","#ff8000","#ff0000","#800000"]},"legend":null}}},
{"data":{"name":"heat"},"transform":[{"filter":"datum.p=='C' && isValid(datum.k)"}],"mark":{"type":"line","strokeWidth":2,"strokeDash":[2.5,2],"clip":true},"encoding":{"x":{"field":"m","type":"quantitative","scale":{"domain":[-32,32],"nice":false,"zero":false},"axis":{"values":[-32,0,32],"labelExpr":"datum.value<0?'-32':datum.value>0?'32':'0'","labelFlush":false,"labelPadding":2,"title":null}},"y":{"field":"f","type":"quantitative","scale":{"domain":[-3.1416,3.1416],"nice":false,"zero":false},"axis":null},"detail":{"field":"g"},"stroke":{"field":"k","type":"quantitative","scale":{"domain":[0,0.125,0.25,0.375,0.5,0.625,0.75,0.875,1],"range":["#00008f","#0000ff","#0080ff","#00ffff","#80ff80","#ffff00","#ff8000","#ff0000","#800000"]},"legend":null}}},
{"data":{"name":"white"},"transform":[{"filter":"datum.p=='C'"}],"mark":{"type":"line","color":"white","strokeWidth":4,"interpolate":"monotone"},"encoding":{"x":{"field":"t","type":"quantitative","scale":{"domain":[-32,32],"nice":false,"zero":false},"axis":{"values":[-32,0,32],"labelExpr":"datum.value<0?'-32':datum.value>0?'32':'0'","labelFlush":false,"labelPadding":2,"title":null}},"y":{"field":"e","type":"quantitative","scale":{"domain":[0,1],"nice":false,"zero":false},"axis":{"orient":"right","values":[0,1],"labelExpr":"datum.value>0.5?'1':'0'","labelFlush":true,"labelPadding":4,"title":"E₂","titleAngle":0,"titleX":25,"titleY":51,"titleAlign":"center","titleBaseline":"middle"}}}}
]}],"bounds":"flush","title":{"text":"C","anchor":"start","frame":"bounds","fontSize":13,"fontWeight":"bold","offset":0,"dx":6,"dy":12}}
],"spacing":252,"bounds":"flush"},

{"hconcat":[
{"vconcat":[{"width":149,"height":145,"title":{"text":"RVS","fontSize":23,"offset":3},"view":{"fill":"#5cc6cc","stroke":null},"resolve":{"scale":{"y":"independent"}},"layer":[
{"data":{"name":"heat"},"transform":[{"filter":"datum.p=='D'"}],"mark":{"type":"area","orient":"horizontal","clip":true},"encoding":{"x":{"field":"a","type":"quantitative","stack":null,"scale":{"domain":[-32,32],"nice":false,"zero":false},"axis":{"values":[-32,0,32],"labelExpr":"datum.value<0?'-32':datum.value>0?'32':'0'","labelFlush":false,"labelPadding":2,"title":"Δt [ms]","titlePadding":3}},"x2":{"field":"b"},"y":{"field":"f","type":"quantitative","scale":{"domain":[-3.1416,3.1416],"nice":false,"zero":false},"axis":{"values":[-3.1416,0,3.1416],"labelExpr":"datum.value>3?'π':datum.value<-3?'-π':'0'","labelFlush":true,"labelPadding":4,"title":"Φ₂","titleAngle":0,"titleX":-30,"titleY":31,"titleAlign":"center","titleBaseline":"middle"}},"detail":{"field":"g"},"fill":{"field":"v","type":"quantitative","scale":{"domain":[0,0.125,0.25,0.375,0.5,0.625,0.75,0.875,1],"range":["#00008f","#0000ff","#0080ff","#00ffff","#80ff80","#ffff00","#ff8000","#ff0000","#800000"]},"legend":null}}},
{"data":{"name":"heat"},"transform":[{"filter":"datum.p=='D' && isValid(datum.w)"}],"mark":{"type":"area","orient":"horizontal","clip":true},"encoding":{"x":{"field":"c","type":"quantitative","stack":null,"scale":{"domain":[-32,32],"nice":false,"zero":false},"axis":{"values":[-32,0,32],"labelExpr":"datum.value<0?'-32':datum.value>0?'32':'0'","labelFlush":false,"labelPadding":2,"title":"Δt [ms]","titlePadding":3}},"x2":{"field":"d"},"y":{"field":"f","type":"quantitative","scale":{"domain":[-3.1416,3.1416],"nice":false,"zero":false},"axis":null},"detail":{"field":"g"},"fill":{"field":"w","type":"quantitative","scale":{"domain":[0,0.125,0.25,0.375,0.5,0.625,0.75,0.875,1],"range":["#00008f","#0000ff","#0080ff","#00ffff","#80ff80","#ffff00","#ff8000","#ff0000","#800000"]},"legend":null}}},
{"data":{"name":"heat"},"transform":[{"filter":"datum.p=='D' && isValid(datum.k)"}],"mark":{"type":"line","strokeWidth":2.5,"strokeDash":[2.5,2],"clip":true},"encoding":{"x":{"field":"m","type":"quantitative","scale":{"domain":[-32,32],"nice":false,"zero":false},"axis":{"values":[-32,0,32],"labelExpr":"datum.value<0?'-32':datum.value>0?'32':'0'","labelFlush":false,"labelPadding":2,"title":"Δt [ms]","titlePadding":3}},"y":{"field":"f","type":"quantitative","scale":{"domain":[-3.1416,3.1416],"nice":false,"zero":false},"axis":null},"detail":{"field":"g"},"stroke":{"field":"k","type":"quantitative","scale":{"domain":[0,0.125,0.25,0.375,0.5,0.625,0.75,0.875,1],"range":["#00008f","#0000ff","#0080ff","#00ffff","#80ff80","#ffff00","#ff8000","#ff0000","#800000"]},"legend":null}}},
{"data":{"name":"white"},"transform":[{"filter":"datum.p=='D'"}],"mark":{"type":"line","color":"white","strokeWidth":4,"interpolate":"monotone"},"encoding":{"x":{"field":"t","type":"quantitative","scale":{"domain":[-32,32],"nice":false,"zero":false},"axis":{"values":[-32,0,32],"labelExpr":"datum.value<0?'-32':datum.value>0?'32':'0'","labelFlush":false,"labelPadding":2,"title":"Δt [ms]","titlePadding":3}},"y":{"field":"e","type":"quantitative","scale":{"domain":[0,1],"nice":false,"zero":false},"axis":{"orient":"right","values":[0,1],"labelExpr":"datum.value>0.5?'1':'0'","labelFlush":true,"labelPadding":4,"title":"E₂","titleAngle":0,"titleX":25,"titleY":51,"titleAlign":"center","titleBaseline":"middle"}}}}
]}],"bounds":"flush","title":{"text":"D","anchor":"start","frame":"bounds","fontSize":13,"fontWeight":"bold","offset":0,"dx":6,"dy":12}},

{"vconcat":[{"width":149,"height":145,"title":{"text":"Fixed CR","fontSize":23,"offset":3},"view":{"fill":"#0000a0","stroke":null},"resolve":{"scale":{"y":"independent"}},"layer":[
{"data":{"name":"heat"},"transform":[{"filter":"datum.p=='E'"}],"mark":{"type":"area","orient":"horizontal","clip":true},"encoding":{"x":{"field":"a","type":"quantitative","stack":null,"scale":{"domain":[-32,32],"nice":false,"zero":false},"axis":{"values":[-32,0,32],"labelExpr":"datum.value<0?'-32':datum.value>0?'32':'0'","labelFlush":false,"labelPadding":2,"title":"Δt [ms]","titlePadding":3}},"x2":{"field":"b"},"y":{"field":"f","type":"quantitative","scale":{"domain":[-3.1416,3.1416],"nice":false,"zero":false},"axis":{"values":[-3.1416,0,3.1416],"labelExpr":"datum.value>3?'π':datum.value<-3?'-π':'0'","labelFlush":true,"labelPadding":4,"title":"Φ₂","titleAngle":0,"titleX":-30,"titleY":31,"titleAlign":"center","titleBaseline":"middle"}},"detail":{"field":"g"},"fill":{"field":"v","type":"quantitative","scale":{"domain":[0,0.125,0.25,0.375,0.5,0.625,0.75,0.875,1],"range":["#00008f","#0000ff","#0080ff","#00ffff","#80ff80","#ffff00","#ff8000","#ff0000","#800000"]},"legend":null}}},
{"data":{"name":"heat"},"transform":[{"filter":"datum.p=='E' && isValid(datum.w)"}],"mark":{"type":"area","orient":"horizontal","clip":true},"encoding":{"x":{"field":"c","type":"quantitative","stack":null,"scale":{"domain":[-32,32],"nice":false,"zero":false},"axis":{"values":[-32,0,32],"labelExpr":"datum.value<0?'-32':datum.value>0?'32':'0'","labelFlush":false,"labelPadding":2,"title":"Δt [ms]","titlePadding":3}},"x2":{"field":"d"},"y":{"field":"f","type":"quantitative","scale":{"domain":[-3.1416,3.1416],"nice":false,"zero":false},"axis":null},"detail":{"field":"g"},"fill":{"field":"w","type":"quantitative","scale":{"domain":[0,0.125,0.25,0.375,0.5,0.625,0.75,0.875,1],"range":["#00008f","#0000ff","#0080ff","#00ffff","#80ff80","#ffff00","#ff8000","#ff0000","#800000"]},"legend":null}}},
{"data":{"name":"heat"},"transform":[{"filter":"datum.p=='E' && isValid(datum.k)"}],"mark":{"type":"line","strokeWidth":1.8,"strokeDash":[3,2],"clip":true},"encoding":{"x":{"field":"m","type":"quantitative","scale":{"domain":[-32,32],"nice":false,"zero":false},"axis":{"values":[-32,0,32],"labelExpr":"datum.value<0?'-32':datum.value>0?'32':'0'","labelFlush":false,"labelPadding":2,"title":"Δt [ms]","titlePadding":3}},"y":{"field":"f","type":"quantitative","scale":{"domain":[-3.1416,3.1416],"nice":false,"zero":false},"axis":null},"detail":{"field":"g"},"stroke":{"field":"k","type":"quantitative","scale":{"domain":[0,0.125,0.25,0.375,0.5,0.625,0.75,0.875,1],"range":["#00008f","#0000ff","#0080ff","#00ffff","#80ff80","#ffff00","#ff8000","#ff0000","#800000"]},"legend":null}}},
{"data":{"name":"white"},"transform":[{"filter":"datum.p=='E'"}],"mark":{"type":"line","color":"white","strokeWidth":4,"interpolate":"monotone"},"encoding":{"x":{"field":"t","type":"quantitative","scale":{"domain":[-32,32],"nice":false,"zero":false},"axis":{"values":[-32,0,32],"labelExpr":"datum.value<0?'-32':datum.value>0?'32':'0'","labelFlush":false,"labelPadding":2,"title":"Δt [ms]","titlePadding":3}},"y":{"field":"e","type":"quantitative","scale":{"domain":[0,1],"nice":false,"zero":false},"axis":{"orient":"right","values":[0,1],"labelExpr":"datum.value>0.5?'1':'0'","labelFlush":true,"labelPadding":4,"title":"E₂","titleAngle":0,"titleX":25,"titleY":51,"titleAlign":"center","titleBaseline":"middle"}}}}
]}],"bounds":"flush","title":{"text":"E","anchor":"start","frame":"bounds","fontSize":13,"fontWeight":"bold","offset":0,"dx":6,"dy":12}},

{"vconcat":[{"width":149,"height":145,"title":{"text":"SVS","fontSize":23,"offset":3},"view":{"fill":"#0000a0","stroke":null},"resolve":{"scale":{"y":"independent"}},"layer":[
{"data":{"name":"heat"},"transform":[{"filter":"datum.p=='F'"}],"mark":{"type":"area","orient":"horizontal","clip":true},"encoding":{"x":{"field":"a","type":"quantitative","stack":null,"scale":{"domain":[-32,32],"nice":false,"zero":false},"axis":{"values":[-32,0,32],"labelExpr":"datum.value<0?'-32':datum.value>0?'32':'0'","labelFlush":false,"labelPadding":2,"title":"Δt [ms]","titlePadding":3}},"x2":{"field":"b"},"y":{"field":"f","type":"quantitative","scale":{"domain":[-3.1416,3.1416],"nice":false,"zero":false},"axis":{"values":[-3.1416,0,3.1416],"labelExpr":"datum.value>3?'π':datum.value<-3?'-π':'0'","labelFlush":true,"labelPadding":4,"title":"Φ₂","titleAngle":0,"titleX":-30,"titleY":31,"titleAlign":"center","titleBaseline":"middle"}},"detail":{"field":"g"},"fill":{"field":"v","type":"quantitative","scale":{"domain":[0,0.125,0.25,0.375,0.5,0.625,0.75,0.875,1],"range":["#00008f","#0000ff","#0080ff","#00ffff","#80ff80","#ffff00","#ff8000","#ff0000","#800000"]},"legend":null}}},
{"data":{"name":"heat"},"transform":[{"filter":"datum.p=='F' && isValid(datum.w)"}],"mark":{"type":"area","orient":"horizontal","clip":true},"encoding":{"x":{"field":"c","type":"quantitative","stack":null,"scale":{"domain":[-32,32],"nice":false,"zero":false},"axis":{"values":[-32,0,32],"labelExpr":"datum.value<0?'-32':datum.value>0?'32':'0'","labelFlush":false,"labelPadding":2,"title":"Δt [ms]","titlePadding":3}},"x2":{"field":"d"},"y":{"field":"f","type":"quantitative","scale":{"domain":[-3.1416,3.1416],"nice":false,"zero":false},"axis":null},"detail":{"field":"g"},"fill":{"field":"w","type":"quantitative","scale":{"domain":[0,0.125,0.25,0.375,0.5,0.625,0.75,0.875,1],"range":["#00008f","#0000ff","#0080ff","#00ffff","#80ff80","#ffff00","#ff8000","#ff0000","#800000"]},"legend":null}}},
{"data":{"name":"heat"},"transform":[{"filter":"datum.p=='F' && isValid(datum.k)"}],"mark":{"type":"line","strokeWidth":1.8,"strokeDash":[3,2],"clip":true},"encoding":{"x":{"field":"m","type":"quantitative","scale":{"domain":[-32,32],"nice":false,"zero":false},"axis":{"values":[-32,0,32],"labelExpr":"datum.value<0?'-32':datum.value>0?'32':'0'","labelFlush":false,"labelPadding":2,"title":"Δt [ms]","titlePadding":3}},"y":{"field":"f","type":"quantitative","scale":{"domain":[-3.1416,3.1416],"nice":false,"zero":false},"axis":null},"detail":{"field":"g"},"stroke":{"field":"k","type":"quantitative","scale":{"domain":[0,0.125,0.25,0.375,0.5,0.625,0.75,0.875,1],"range":["#00008f","#0000ff","#0080ff","#00ffff","#80ff80","#ffff00","#ff8000","#ff0000","#800000"]},"legend":null}}},
{"data":{"name":"white"},"transform":[{"filter":"datum.p=='F'"}],"mark":{"type":"line","color":"white","strokeWidth":4,"interpolate":"monotone"},"encoding":{"x":{"field":"t","type":"quantitative","scale":{"domain":[-32,32],"nice":false,"zero":false},"axis":{"values":[-32,0,32],"labelExpr":"datum.value<0?'-32':datum.value>0?'32':'0'","labelFlush":false,"labelPadding":2,"title":"Δt [ms]","titlePadding":3}},"y":{"field":"e","type":"quantitative","scale":{"domain":[0,1],"nice":false,"zero":false},"axis":{"orient":"right","values":[0,1],"labelExpr":"datum.value>0.5?'1':'0'","labelFlush":true,"labelPadding":4,"title":"E₂","titleAngle":0,"titleX":25,"titleY":51,"titleAlign":"center","titleBaseline":"middle"}}}}
]}],"bounds":"flush","title":{"text":"F","anchor":"start","frame":"bounds","fontSize":13,"fontWeight":"bold","offset":0,"dx":6,"dy":12}}
],"spacing":252,"bounds":"flush"}
],"spacing":220,"bounds":"flush"},

{"hconcat":[
{"vconcat":[{"width":148,"height":146,"title":{"text":"1ˢᵗ ON-cycle","fontSize":19,"offset":6},"view":{"stroke":"#000","strokeWidth":1.5},"data":{"name":"ec"},"transform":[{"filter":"datum.c=='G'"}],"mark":{"type":"line","strokeWidth":2.5,"interpolate":"monotone"},"encoding":{"x":{"field":"t","type":"quantitative","scale":{"domain":[-32,32],"nice":false,"zero":false},"axis":{"values":[-32,-16,0,16,32],"labelExpr":"datum.value==-32?'-32':datum.value==32?'32':datum.value==0?'0':''","labelFlush":false,"ticks":true,"tickSize":-4,"tickColor":"#000","labelPadding":7,"labelFontSize":20,"title":"Δt [ms]","titlePadding":3}},"y":{"field":"e","type":"quantitative","scale":{"domain":[0,1],"nice":false,"zero":false},"axis":{"values":[0,0.25,0.5,0.75,1],"labelExpr":"datum.value==0?'0.0':datum.value==0.5?'0.5':datum.value==1?'1.0':''","labelFlush":true,"ticks":true,"tickSize":-4,"tickColor":"#000","labelPadding":7,"labelFontSize":20,"title":"E₂","titleAngle":0,"titleX":-33,"titleY":52,"titleAlign":"center","titleBaseline":"middle"}},"color":{"field":"s","type":"nominal","scale":{"domain":["PPMS","CMNS","UMNS","RVS CR","fixed CR","SVS CR"],"range":["#000000","#ff00ff","#00ee00","#0000ff","#00ffff","#ff0000"]},"legend":{"orient":"none","legendX":-28,"legendY":717,"direction":"horizontal","columns":6,"title":null,"symbolType":"stroke","symbolStrokeWidth":5,"symbolSize":256,"labelFontSize":18,"columnPadding":26,"labelOffset":5}}}}],"bounds":"flush","title":{"text":"G","anchor":"start","frame":"bounds","fontSize":13,"fontWeight":"bold","offset":0,"dx":8,"dy":-5}},

{"vconcat":[{"width":148,"height":146,"title":{"text":"2ⁿᵈ ON-cycle","fontSize":19,"offset":6},"view":{"stroke":"#000","strokeWidth":1.5},"data":{"name":"ec"},"transform":[{"filter":"datum.c=='H'"}],"mark":{"type":"line","strokeWidth":2.5,"interpolate":"monotone"},"encoding":{"x":{"field":"t","type":"quantitative","scale":{"domain":[-32,32],"nice":false,"zero":false},"axis":{"values":[-32,-16,0,16,32],"labelExpr":"datum.value==-32?'-32':datum.value==32?'32':datum.value==0?'0':''","labelFlush":false,"ticks":true,"tickSize":-4,"tickColor":"#000","labelPadding":7,"labelFontSize":20,"title":"Δt [ms]","titlePadding":3}},"y":{"field":"e","type":"quantitative","scale":{"domain":[0,1],"nice":false,"zero":false},"axis":{"values":[0,0.25,0.5,0.75,1],"labelExpr":"datum.value==0?'0.0':datum.value==0.5?'0.5':datum.value==1?'1.0':''","labelFlush":true,"ticks":true,"tickSize":-4,"tickColor":"#000","labelPadding":7,"labelFontSize":20,"title":null}},"color":{"field":"s","type":"nominal","scale":{"domain":["PPMS","CMNS","UMNS","RVS CR","fixed CR","SVS CR"],"range":["#000000","#ff00ff","#00ee00","#0000ff","#00ffff","#ff0000"]},"legend":{"orient":"none","legendX":-28,"legendY":717,"direction":"horizontal","columns":6,"title":null,"symbolType":"stroke","symbolStrokeWidth":5,"symbolSize":256,"labelFontSize":18,"columnPadding":26,"labelOffset":5}}}}],"bounds":"flush","title":{"text":"H","anchor":"start","frame":"bounds","fontSize":13,"fontWeight":"bold","offset":0,"dx":-7,"dy":-5}},

{"vconcat":[{"width":148,"height":146,"title":{"text":"3ʳᵈ ON-cycle","fontSize":19,"offset":6},"view":{"stroke":"#000","strokeWidth":1.5},"data":{"name":"ec"},"transform":[{"filter":"datum.c=='I'"}],"mark":{"type":"line","strokeWidth":2.5,"interpolate":"monotone"},"encoding":{"x":{"field":"t","type":"quantitative","scale":{"domain":[-32,32],"nice":false,"zero":false},"axis":{"values":[-32,-16,0,16,32],"labelExpr":"datum.value==-32?'-32':datum.value==32?'32':datum.value==0?'0':''","labelFlush":false,"ticks":true,"tickSize":-4,"tickColor":"#000","labelPadding":7,"labelFontSize":20,"title":"Δt [ms]","titlePadding":3}},"y":{"field":"e","type":"quantitative","scale":{"domain":[0,1],"nice":false,"zero":false},"axis":{"values":[0,0.25,0.5,0.75,1],"labelExpr":"datum.value==0?'0.0':datum.value==0.5?'0.5':datum.value==1?'1.0':''","labelFlush":true,"ticks":true,"tickSize":-4,"tickColor":"#000","labelPadding":7,"labelFontSize":20,"title":null}},"color":{"field":"s","type":"nominal","scale":{"domain":["PPMS","CMNS","UMNS","RVS CR","fixed CR","SVS CR"],"range":["#000000","#ff00ff","#00ee00","#0000ff","#00ffff","#ff0000"]},"legend":{"orient":"none","legendX":-28,"legendY":717,"direction":"horizontal","columns":6,"title":null,"symbolType":"stroke","symbolStrokeWidth":5,"symbolSize":256,"labelFontSize":18,"columnPadding":26,"labelOffset":5}}}}],"bounds":"flush","title":{"text":"I","anchor":"start","frame":"bounds","fontSize":13,"fontWeight":"bold","offset":0,"dx":-3,"dy":-5}}
],"spacing":253,"bounds":"flush"}
],
"spacing":504,
"bounds":"flush"
}
